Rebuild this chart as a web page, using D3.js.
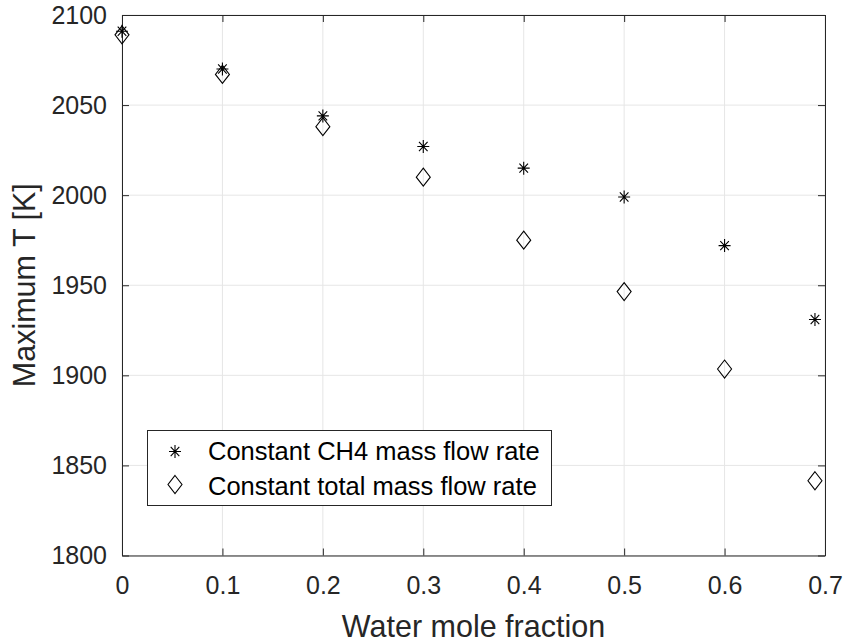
<!DOCTYPE html>
<html>
<head>
<meta charset="utf-8">
<script src="https://cdn.jsdelivr.net/npm/d3@7"></script>
<style>
  body { margin: 0; background: #fff; }
  svg text { font-family: "Liberation Sans", Arial, Helvetica, sans-serif; fill: #262626; }
</style>
</head>
<body>
<div id="chart"></div>
<script>
// water mole fraction and max temperature for both cases
const waterFraction = [0, 0.1, 0.2, 0.3, 0.4, 0.5, 0.6, 0.69];
const tConstCH4 = [2091, 2070, 2044, 2027, 2015, 1999, 1972, 1931];
const tConstTotal = [2089, 2067, 2038, 2010, 1975, 1946.5, 1903.5, 1841.5];
const xTicks = [0, 0.1, 0.2, 0.3, 0.4, 0.5, 0.6, 0.7];
const yTicks = [1800, 1850, 1900, 1950, 2000, 2050, 2100];
const legendLabels = ['Constant CH4 mass flow rate', 'Constant total mass flow rate'];

const width = 845, height = 641;
const margin = {top: 15, right: 20, bottom: 85.5, left: 122};
const axisColor = '#262626';

const svg = d3.select('#chart').append('svg')
  .attr('width', width)
  .attr('height', height);

const x = d3.scaleLinear().domain([0, 0.7]).range([margin.left, width - margin.right]);
const y = d3.scaleLinear().domain([1800, 2100]).range([height - margin.bottom, margin.top]);

// grid
svg.append('g')
  .selectAll('line')
  .data(xTicks)
  .join('line')
  .attr('x1', d => x(d)).attr('x2', d => x(d))
  .attr('y1', y(1800)).attr('y2', y(2100))
  .attr('stroke', '#e6e6e6').attr('stroke-width', 1);
svg.append('g')
  .selectAll('line')
  .data(yTicks)
  .join('line')
  .attr('x1', x(0)).attr('x2', x(0.7))
  .attr('y1', d => y(d)).attr('y2', d => y(d))
  .attr('stroke', '#e6e6e6').attr('stroke-width', 1);

// axes, ticks pointing inward like matlab
const styleAxis = g => {
  g.select('.domain').attr('stroke', axisColor);
  g.selectAll('.tick line').attr('stroke', axisColor);
  g.selectAll('.tick text').attr('fill', axisColor).style('font-size', '25px');
};

svg.append('g')
  .attr('transform', `translate(0,${y(1800)})`)
  .call(d3.axisBottom(x).tickValues(xTicks).tickFormat(d3.format('')).tickSizeInner(-7).tickSizeOuter(0).tickPadding(21))
  .call(styleAxis);
svg.append('g')
  .attr('transform', `translate(0,${y(2100)})`)
  .call(d3.axisTop(x).tickValues(xTicks).tickFormat('').tickSizeInner(-7).tickSizeOuter(0))
  .call(styleAxis);
svg.append('g')
  .attr('transform', `translate(${x(0)},0)`)
  .call(d3.axisLeft(y).tickValues(yTicks).tickFormat(d3.format('d')).tickSizeInner(-7).tickSizeOuter(0).tickPadding(15))
  .call(styleAxis);
svg.append('g')
  .attr('transform', `translate(${x(0.7)},0)`)
  .call(d3.axisRight(y).tickValues(yTicks).tickFormat('').tickSizeInner(-7).tickSizeOuter(0))
  .call(styleAxis);

// axis titles
svg.append('text')
  .attr('x', (x(0) + x(0.7)) / 2)
  .attr('y', 636.5)
  .attr('text-anchor', 'middle')
  .style('font-size', '30.5px')
  .text('Water mole fraction');
svg.append('text')
  .attr('transform', `translate(35,${(y(1800) + y(2100)) / 2}) rotate(-90)`)
  .attr('text-anchor', 'middle')
  .style('font-size', '30.5px')
  .text('Maximum T [K]');

// markers
const starPath = 'M-6,0H6M0,-6.5V6.5M-4.3,-4.6L4.3,4.6M-4.3,4.6L4.3,-4.6';
const diamondPath = 'M0,-9L7,0L0,9L-7,0Z';

const pointsCH4 = waterFraction.map((w, i) => [w, tConstCH4[i]]);
const pointsTotal = waterFraction.map((w, i) => [w, tConstTotal[i]]);

svg.append('g')
  .selectAll('path')
  .data(pointsTotal)
  .join('path')
  .attr('transform', d => `translate(${x(d[0])},${y(d[1])})`)
  .attr('d', diamondPath)
  .attr('fill', 'none').attr('stroke', '#000').attr('stroke-width', 1.1);

svg.append('g')
  .selectAll('path')
  .data(pointsCH4)
  .join('path')
  .attr('transform', d => `translate(${x(d[0])},${y(d[1])})`)
  .attr('d', starPath)
  .attr('fill', 'none').attr('stroke', '#000').attr('stroke-width', 1.1);

// legend
const legend = svg.append('g').attr('transform', 'translate(147.5,430.5)');
legend.append('rect')
  .attr('width', 404).attr('height', 75)
  .attr('fill', '#fff').attr('stroke', axisColor).attr('stroke-width', 1);
legend.append('path')
  .attr('transform', 'translate(27.5,21)')
  .attr('d', starPath)
  .attr('fill', 'none').attr('stroke', '#000').attr('stroke-width', 1.1);
legend.append('path')
  .attr('transform', 'translate(27.5,54)')
  .attr('d', diamondPath)
  .attr('fill', 'none').attr('stroke', '#000').attr('stroke-width', 1.1);
legend.selectAll('text.lbl')
  .data(legendLabels)
  .join('text')
  .attr('class', 'lbl')
  .attr('x', 60.5)
  .attr('y', (d, i) => 29.5 + i * 35)
  .style('font-size', '25.5px')
  .style('fill', '#000')
  .text(d => d);
</script>
</body>
</html>
